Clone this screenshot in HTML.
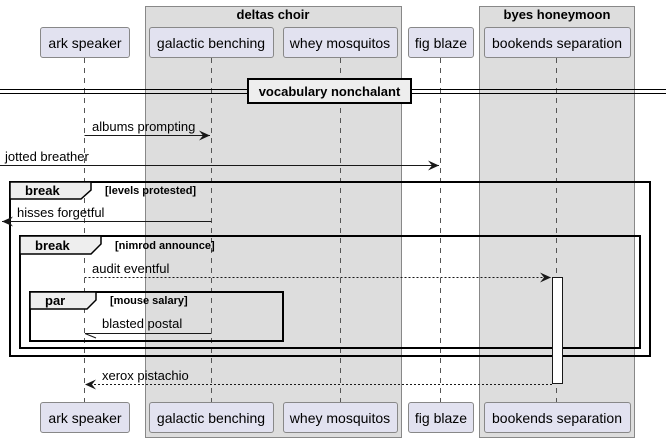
<!DOCTYPE html>
<html><head><meta charset="utf-8"><style>html,body{margin:0;padding:0;background:#fff}svg{display:block}</style></head>
<body>
<svg width="666" height="443" viewBox="0 0 666 443" xmlns="http://www.w3.org/2000/svg" font-family="Liberation Sans, sans-serif">
<defs>
<marker id="a" markerWidth="12" markerHeight="10" refX="11" refY="5" orient="auto" markerUnits="userSpaceOnUse"><path d="M0,0 L11,5 L0,10 L4,5 Z" fill="#181818"/></marker>
</defs>
<!-- group boxes -->
<rect x="145.5" y="6.5" width="256" height="431" fill="#dddddd" stroke="#888" stroke-width="1"/>
<text x="273" y="19" font-size="13" font-weight="bold" text-anchor="middle" fill="#000">deltas choir</text>
<rect x="479.5" y="6.5" width="155" height="431" fill="#dddddd" stroke="#888" stroke-width="1"/>
<text x="557" y="19" font-size="13" font-weight="bold" text-anchor="middle" fill="#000">byes honeymoon</text>
<!-- lifelines -->
<g stroke="#555" stroke-width="1" stroke-dasharray="5,5">
<line x1="84.5" y1="58" x2="84.5" y2="402"/>
<line x1="211.5" y1="58" x2="211.5" y2="402"/>
<line x1="340.5" y1="58" x2="340.5" y2="402"/>
<line x1="440.5" y1="58" x2="440.5" y2="402"/>
<line x1="556.5" y1="58" x2="556.5" y2="402"/>
</g>
<!-- participants -->
<g fill="#e2e2f0" stroke="#888" stroke-width="1">
<rect x="40.5" y="27.5" width="89" height="30" rx="2.5"/>
<rect x="149.5" y="27.5" width="124" height="30" rx="2.5"/>
<rect x="283.5" y="27.5" width="114" height="30" rx="2.5"/>
<rect x="408.5" y="27.5" width="65" height="30" rx="2.5"/>
<rect x="484.5" y="27.5" width="146" height="30" rx="2.5"/>
<rect x="40.5" y="402.5" width="89" height="30" rx="2.5"/>
<rect x="149.5" y="402.5" width="124" height="30" rx="2.5"/>
<rect x="283.5" y="402.5" width="114" height="30" rx="2.5"/>
<rect x="408.5" y="402.5" width="65" height="30" rx="2.5"/>
<rect x="484.5" y="402.5" width="146" height="30" rx="2.5"/>
</g>
<g font-size="14" fill="#000" text-anchor="middle">
<text x="85" y="48">ark speaker</text>
<text x="211" y="48">galactic benching</text>
<text x="340" y="48">whey mosquitos</text>
<text x="441" y="48">fig blaze</text>
<text x="557" y="48">bookends separation</text>
<text x="85" y="423">ark speaker</text>
<text x="211" y="423">galactic benching</text>
<text x="340" y="423">whey mosquitos</text>
<text x="441" y="423">fig blaze</text>
<text x="557" y="423">bookends separation</text>
</g>
<!-- divider -->
<line x1="0" y1="89.5" x2="666" y2="89.5" stroke="#000"/>
<line x1="0" y1="93.5" x2="666" y2="93.5" stroke="#000"/>
<rect x="248" y="79" width="163" height="24" fill="#eeeeee" stroke="#000" stroke-width="2"/>
<text x="329.5" y="96" font-size="13" font-weight="bold" text-anchor="middle">vocabulary nonchalant</text>
<!-- messages -->
<g font-size="13" fill="#000">
<line x1="84.5" y1="135.5" x2="210" y2="135.5" stroke="#181818" marker-end="url(#a)"/>
<text x="92" y="131">albums prompting</text>
<line x1="0" y1="165.5" x2="439" y2="165.5" stroke="#181818" marker-end="url(#a)"/>
<text x="5" y="161">jotted breather</text>
</g>
<!-- break 1 -->
<rect x="10" y="182" width="640" height="174" fill="none" stroke="#000" stroke-width="2"/>
<path d="M10,182 L91,182 L91,190 L81,199 L10,199 Z" fill="#eeeeee" stroke="#000" stroke-width="1.5"/>
<text x="25" y="195" font-size="13" font-weight="bold">break</text>
<text x="105" y="194" font-size="11" font-weight="bold">[levels protested]</text>
<line x1="211.5" y1="221.5" x2="2" y2="221.5" stroke="#181818" marker-end="url(#a)"/>
<text x="17" y="217" font-size="13">hisses forgetful</text>
<!-- break 2 -->
<rect x="20" y="236" width="620" height="112" fill="none" stroke="#000" stroke-width="2"/>
<path d="M20,236 L101,236 L101,244 L91,254 L20,254 Z" fill="#eeeeee" stroke="#000" stroke-width="1.5"/>
<text x="35" y="250" font-size="13" font-weight="bold">break</text>
<text x="115" y="249" font-size="11" font-weight="bold">[nimrod announce]</text>
<line x1="84.5" y1="277.5" x2="551" y2="277.5" stroke="#181818" stroke-dasharray="2,2" marker-end="url(#a)"/>
<text x="92" y="273" font-size="13">audit eventful</text>
<!-- par -->
<rect x="30" y="292" width="253" height="49" fill="none" stroke="#000" stroke-width="2"/>
<path d="M30,292 L96,292 L96,300 L87,309 L30,309 Z" fill="#eeeeee" stroke="#000" stroke-width="1.5"/>
<text x="45" y="305" font-size="13" font-weight="bold">par</text>
<text x="110" y="304" font-size="11" font-weight="bold">[mouse salary]</text>
<line x1="211.5" y1="333.5" x2="85" y2="333.5" stroke="#181818"/>
<line x1="85" y1="333.5" x2="96" y2="338" stroke="#181818"/>
<text x="102" y="328" font-size="13">blasted postal</text>
<!-- activation -->
<rect x="552.5" y="277.5" width="10" height="106" fill="#fff" stroke="#181818"/>
<line x1="552" y1="384.5" x2="85" y2="384.5" stroke="#181818" stroke-dasharray="2,2" marker-end="url(#a)"/>
<text x="102" y="380" font-size="13">xerox pistachio</text>
</svg>
</body></html>
